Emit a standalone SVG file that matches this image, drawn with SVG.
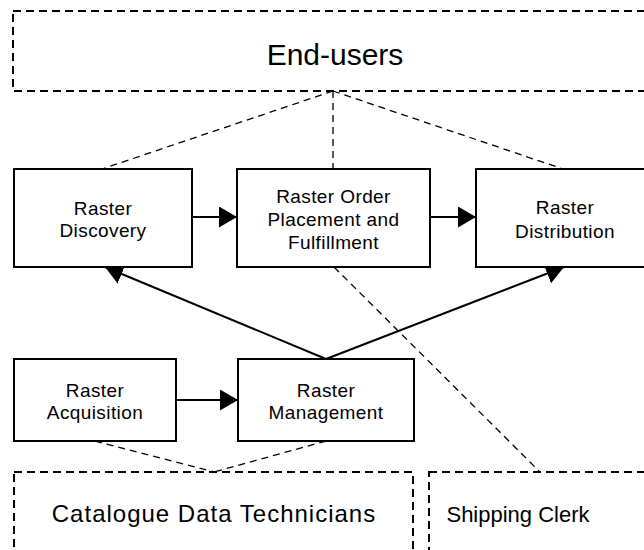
<svg xmlns="http://www.w3.org/2000/svg" width="644" height="550" viewBox="0 0 644 550">
<defs>
<marker id="arrow" viewBox="0 0 18 21" refX="18" refY="10.5" markerWidth="18" markerHeight="21" markerUnits="userSpaceOnUse" orient="auto"><path d="M0,0 L18,10.5 L0,21 Z" fill="#000"/></marker>
</defs>
<style>
.box{fill:#fff;stroke:#000;stroke-width:2}
.actor{fill:#fff;stroke:#000;stroke-width:2;stroke-dasharray:8 5}
.t{font-family:"Liberation Sans",Arial,sans-serif;font-size:19px;letter-spacing:0.4px;text-anchor:middle;fill:#000}
.ta{font-family:"Liberation Sans",Arial,sans-serif;font-size:24px;text-anchor:middle;fill:#000}
.flow{stroke:#000;stroke-width:2;fill:none}
.assoc{stroke:#000;stroke-width:1.3;fill:none;stroke-dasharray:7 5}
</style>
<rect width="644" height="550" fill="#fff"/>
<g id="connectors">
<line class="assoc" x1="333" y1="91" x2="102" y2="169"/>
<line class="assoc" x1="333" y1="91" x2="333" y2="169"/>
<line class="assoc" x1="333" y1="91" x2="563" y2="169"/>
<line class="assoc" x1="334" y1="267" x2="540" y2="472"/>
<line class="assoc" x1="95" y1="441" x2="214" y2="472"/>
<line class="assoc" x1="326" y1="441" x2="214" y2="472"/>
<line class="flow" x1="192" y1="217" x2="237" y2="217" marker-end="url(#arrow)"/>
<line class="flow" x1="430" y1="217" x2="476" y2="217" marker-end="url(#arrow)"/>
<line class="flow" x1="176" y1="400" x2="238" y2="400" marker-end="url(#arrow)"/>
<line class="flow" x1="326" y1="359" x2="105" y2="267" marker-end="url(#arrow)"/>
<line class="flow" x1="326" y1="359" x2="564" y2="267" marker-end="url(#arrow)"/>
</g>
<g id="end-users">
<rect class="actor" x="13" y="11" width="660" height="80"/>
<text class="ta" x="335" y="65" style="font-size:30px">End-users</text>
</g>
<g id="raster-discovery">
<rect class="box" x="14" y="169" width="178" height="98"/>
<text class="t" x="103" y="215">Raster</text>
<text class="t" x="103" y="237">Discovery</text>
</g>
<g id="raster-order">
<rect class="box" x="237" y="169" width="193" height="98"/>
<text class="t" x="333.5" y="203">Raster Order</text>
<text class="t" x="333.5" y="226">Placement and</text>
<text class="t" x="333.5" y="249">Fulfillment</text>
</g>
<g id="raster-distribution">
<rect class="box" x="476" y="169" width="180" height="98"/>
<text class="t" x="565" y="214">Raster</text>
<text class="t" x="565" y="238">Distribution</text>
</g>
<g id="raster-acquisition">
<rect class="box" x="14" y="359" width="162" height="82"/>
<text class="t" x="95" y="397">Raster</text>
<text class="t" x="95" y="419">Acquisition</text>
</g>
<g id="raster-management">
<rect class="box" x="238" y="359" width="176" height="82"/>
<text class="t" x="326" y="397">Raster</text>
<text class="t" x="326" y="419">Management</text>
</g>
<g id="catalogue-data-technicians">
<rect class="actor" x="14" y="472" width="399" height="100"/>
<text class="ta" x="214" y="522" style="letter-spacing:1px">Catalogue Data Technicians</text>
</g>
<g id="shipping-clerk">
<rect class="actor" x="429" y="472" width="260" height="100"/>
<text class="ta" x="518" y="522" style="font-size:22px">Shipping Clerk</text>
</g>
</svg>
